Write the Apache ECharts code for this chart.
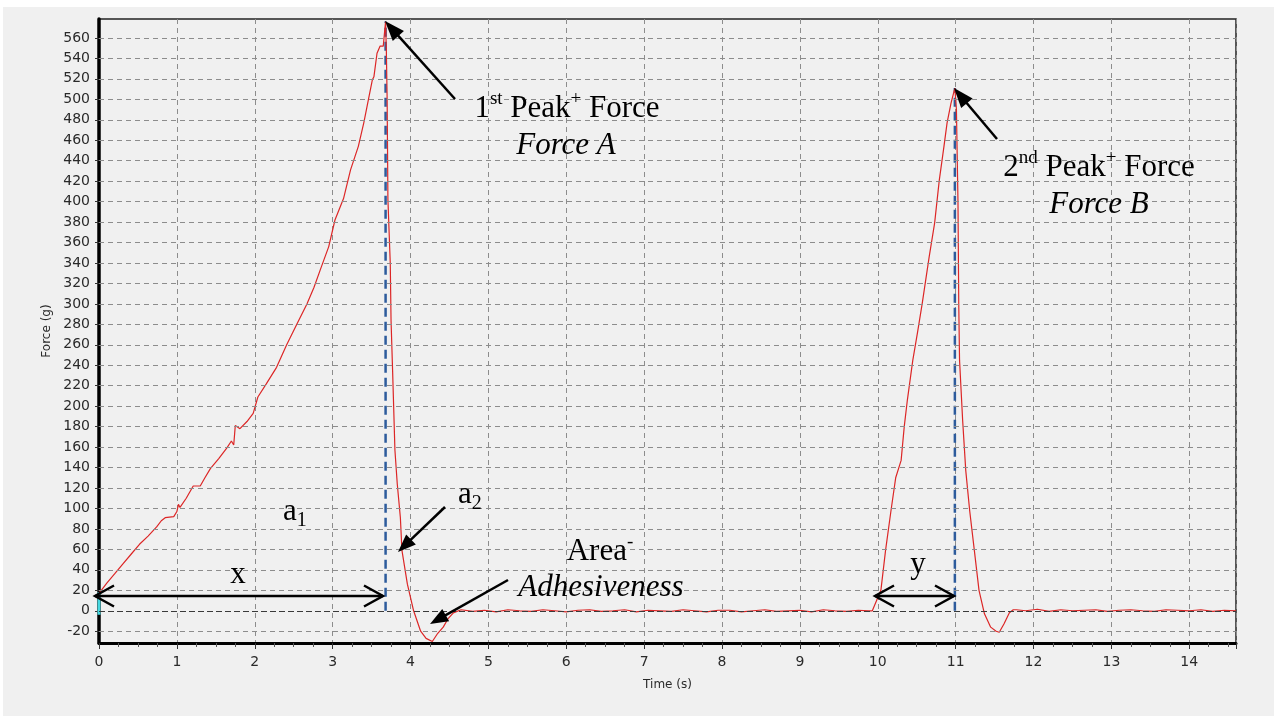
<!DOCTYPE html>
<html><head><meta charset="utf-8">
<script src="https://cdn.jsdelivr.net/npm/echarts@6/dist/echarts.min.js"></script>
<style>html,body{margin:0;padding:0;background:#f0f0f0}#c{width:1274px;height:716px}</style>
</head><body><div id="c"></div>
<script>
// ---- data ----
const load1Time  = [0, 0.1, 0.2, 0.31, 0.42, 0.52, 0.63, 0.74, 0.8, 0.85, 0.96, 1.0, 1.02, 1.04, 1.12, 1.21, 1.30, 1.36, 1.43, 1.54, 1.64, 1.70, 1.73, 1.75, 1.81, 1.90, 1.98, 2.04, 2.15, 2.28, 2.41, 2.54, 2.67, 2.76, 2.84, 2.95, 3.03, 3.14, 3.23, 3.33, 3.40, 3.46, 3.51, 3.53, 3.57, 3.61, 3.65, 3.68];
const load1Force = [17, 27, 36, 46, 56, 65, 73, 82, 88, 91, 92, 97, 104, 101, 110, 122, 122, 130, 139, 149, 159, 166, 162, 181, 178, 185, 193, 209, 222, 238, 260, 280, 300, 316, 333, 356, 382, 403, 431, 454, 477, 500, 519, 522, 545, 552, 552, 576];
const unload1Time  = [3.69, 3.70, 3.71, 3.74, 3.75, 3.77, 3.80, 3.83, 3.87, 3.89, 3.96, 4.04, 4.13, 4.20, 4.28, 4.35, 4.42, 4.48, 4.55];
const unload1Force = [547, 500, 402, 340, 284, 235, 157, 124, 91, 59, 26, 0, -20, -27, -30, -22, -16, -8, -2];
const rest1Time  = [4.65, 4.8, 4.95, 5.1, 5.25, 5.4, 5.55, 5.7, 5.85, 6.0, 6.15, 6.3, 6.45, 6.6, 6.75, 6.9, 7.05, 7.2, 7.35, 7.5, 7.65, 7.8, 7.95, 8.1, 8.25, 8.4, 8.55, 8.7, 8.85, 9.0, 9.15, 9.3, 9.45, 9.6, 9.75, 9.88];
const rest1Force = [1, -0.5, 0.5, -1, 1, 0, -0.5, 1, 0, -1, 0.5, 1, -0.5, 0, 1, -1, 0.5, 0, -0.5, 1, 0, -1, 0.5, 0.5, -1, 0, 1, -0.5, 0, 0.5, -1, 1, 0, -0.5, 0.5, 0];
const load2Time  = [9.93, 10.04, 10.10, 10.17, 10.23, 10.30, 10.34, 10.38, 10.45, 10.51, 10.57, 10.66, 10.73, 10.79, 10.85, 10.89, 10.94, 10.99];
const load2Force = [0, 20, 59, 98, 130, 147, 180, 206, 245, 272, 300, 346, 379, 421, 454, 477, 496, 511];
const unload2Time  = [11.01, 11.03, 11.04, 11.05, 11.09, 11.13, 11.18, 11.24, 11.30, 11.37, 11.45, 11.52, 11.56, 11.62, 11.69, 11.74];
const unload2Force = [490, 400, 300, 245, 186, 137, 98, 59, 20, -3, -16, -20, -21, -13, -2, 1];
const rest2Time  = [11.78, 11.9, 12.05, 12.2, 12.35, 12.5, 12.65, 12.8, 12.95, 13.1, 13.25, 13.4, 13.55, 13.7, 13.85, 14.0, 14.15, 14.3, 14.45, 14.6];
const rest2Force = [1, 0, 1.5, -0.5, 1, 0, 0.5, 1, -0.5, 0.5, 1, 0, -0.5, 1, 0.5, 0, 1, -0.5, 0.5, 0];
const peakTimes  = [3.68, 10.99];
const peakForces = [576, 511];
const startMarkTime = [0, 0];
const startMarkForce = [-4, 18];
const yTickValues = [-20, 0, 20, 40, 60, 80, 100, 120, 140, 160, 180, 200, 220, 240, 260, 280, 300, 320, 340, 360, 380, 400, 420, 440, 460, 480, 500, 520, 540, 560];

const allTime  = [].concat(load1Time, unload1Time, rest1Time, load2Time, unload2Time, rest2Time);
const allForce = [].concat(load1Force, unload1Force, rest1Force, load2Force, unload2Force, rest2Force);
const curve = allTime.map((t, i) => [t, allForce[i]]);

const chart = echarts.init(document.getElementById('c'));
const axisFont = {fontFamily: 'DejaVu Sans', fontSize: 14, color: '#2a2a2a'};
const gridDash = {color: '#8c8c8c', width: 1, type: [5, 4]};

const peakSeries = peakTimes.map((t, i) => ({
  type: 'line', data: [[t, 0], [t, peakForces[i]]], symbol: 'none', silent: true,
  lineStyle: {color: '#2d5b9c', width: 2.5, type: [9, 5]}, z: 3
}));

chart.setOption({
  backgroundColor: '#f0f0f0',
  animation: false,
  grid: {left: 99, right: 38, top: 19, bottom: 73, show: true, borderColor: '#222', borderWidth: 1.5, backgroundColor: 'transparent'},
  xAxis: {
    type: 'value', min: 0, max: 14.6, interval: 1,
    name: 'Time (s)', nameLocation: 'middle', nameGap: 36,
    nameTextStyle: {fontFamily: 'DejaVu Sans', fontSize: 12, color: '#2a2a2a'},
    axisLine: {show: true, onZero: false, lineStyle: {color: '#000', width: 3}},
    axisTick: {show: true, length: 6, lineStyle: {color: '#333'}},
    minorTick: {show: true, splitNumber: 4, length: 4, lineStyle: {color: '#555'}},
    axisLabel: Object.assign({margin: 12, showMaxLabel: false}, axisFont),
    splitLine: {show: true, lineStyle: gridDash}
  },
  yAxis: {
    type: 'value', min: -31.5, max: 578.5,
    name: 'Force (g)', nameLocation: 'middle', nameGap: 41, nameRotate: 90,
    nameTextStyle: {fontFamily: 'DejaVu Sans', fontSize: 12, color: '#2a2a2a'},
    axisLine: {show: true, onZero: false, lineStyle: {color: '#000', width: 3.5}},
    axisTick: {show: true, length: 4, customValues: yTickValues, lineStyle: {color: '#333'}},
    axisLabel: Object.assign({margin: 9, customValues: yTickValues}, axisFont),
    splitLine: {show: false}
  },
  series: [
    {
      type: 'line', data: [], silent: true, z: 1,
      markLine: {silent: true, symbol: 'none', label: {show: false}, animation: false,
        lineStyle: gridDash, data: yTickValues.filter(v => v !== 0).map(v => ({yAxis: v}))}
    },
    {
      type: 'line', data: curve, symbol: 'none', silent: true, z: 4,
      lineStyle: {color: '#dc2626', width: 1.2},
      markLine: {silent: true, symbol: 'none', label: {show: false},
        lineStyle: {color: '#3a3a3a', width: 1.2, type: [6, 3]}, data: [{yAxis: 0}]}
    },
    {type: 'line', data: startMarkTime.map((t, i) => [t, startMarkForce[i]]), symbol: 'none', silent: true,
      lineStyle: {color: '#46d8e0', width: 3}, z: 2}
  ].concat(peakSeries)
});

// ---- annotations ----
const serif = 'Liberation Serif';
function arrow(tail, tip, len, wid, filled) {
  const dx = tip[0] - tail[0], dy = tip[1] - tail[1];
  const L = Math.hypot(dx, dy), ux = dx / L, uy = dy / L;
  const bx = tip[0] - ux * len, by = tip[1] - uy * len;
  const px = -uy * wid / 2, py = ux * wid / 2;
  const els = [];
  if (filled) {
    els.push({type: 'line', shape: {x1: tail[0], y1: tail[1], x2: bx + ux * 2, y2: by + uy * 2}, style: {stroke: '#000', lineWidth: 2.5}});
    els.push({type: 'polygon', shape: {points: [[tip[0], tip[1]], [bx + px, by + py], [bx - px, by - py]]}, style: {fill: '#000'}});
  } else {
    els.push({type: 'polyline', shape: {points: [[bx + px, by + py], [tip[0], tip[1]], [bx - px, by - py]]}, style: {stroke: '#000', lineWidth: 2.5, fill: null}});
  }
  return els;
}
function dbl(a, b) {
  return [{type: 'line', shape: {x1: a[0], y1: a[1], x2: b[0], y2: b[1]}, style: {stroke: '#000', lineWidth: 2.5}}]
    .concat(arrow(b, a, 19, 21, false), arrow(a, b, 19, 21, false));
}
const richBase = {
  n: {fontFamily: serif, fontSize: 31, lineHeight: 38, verticalAlign: 'middle', fill: '#000'},
  sup: {fontFamily: serif, fontSize: 19, lineHeight: 19, verticalAlign: 'top', fill: '#000'},
  sub: {fontFamily: serif, fontSize: 20, lineHeight: 20, verticalAlign: 'bottom', fill: '#000'}
};
function txt(x, y, text, align, italic) {
  return {type: 'text', x: x, y: y, z: 100, style: {text: text, rich: richBase, align: align || 'center', verticalAlign: 'middle',
    fontFamily: serif, fontSize: 31, fontStyle: italic ? 'italic' : 'normal', fill: '#000'}};
}
const g = [
  {type: 'rect', shape: {x: 0, y: 0, width: 1274, height: 7}, style: {fill: '#ffffff'}, z: 0},
  {type: 'rect', shape: {x: 0, y: 0, width: 3, height: 716}, style: {fill: '#ffffff'}, z: 0},
  txt(567, 109, '{n|1}{sup|st}{n| Peak}{sup|+}{n| Force}'),
  txt(566, 146, 'Force A', 'center', true),
  txt(1099, 168, '{n|2}{sup|nd}{n| Peak}{sup|+}{n| Force}'),
  txt(1099, 205, 'Force B', 'center', true),
  txt(283, 512, '{n|a}{sub|1}', 'left'),
  txt(458, 495, '{n|a}{sub|2}', 'left'),
  txt(600, 552, '{n|Area}{sup|-}'),
  txt(601, 588, 'Adhesiveness', 'center', true),
  txt(238, 575, 'x'),
  txt(918, 565, 'y')
]
.concat(arrow([455, 99], [385, 21], 20, 15, true))
.concat(arrow([997, 139], [954, 88], 20, 15, true))
.concat(arrow([445, 507], [398, 552], 18, 14, true))
.concat(arrow([508, 580], [430, 624], 18, 14, true))
.concat(dbl([95, 596], [383, 596]))
.concat(dbl([875, 596], [954, 596]));
chart.setOption({graphic: g.map(e => Object.assign({z: 100}, e, e.type === 'rect' ? {z: 0} : {}))});
</script>
</body></html>
